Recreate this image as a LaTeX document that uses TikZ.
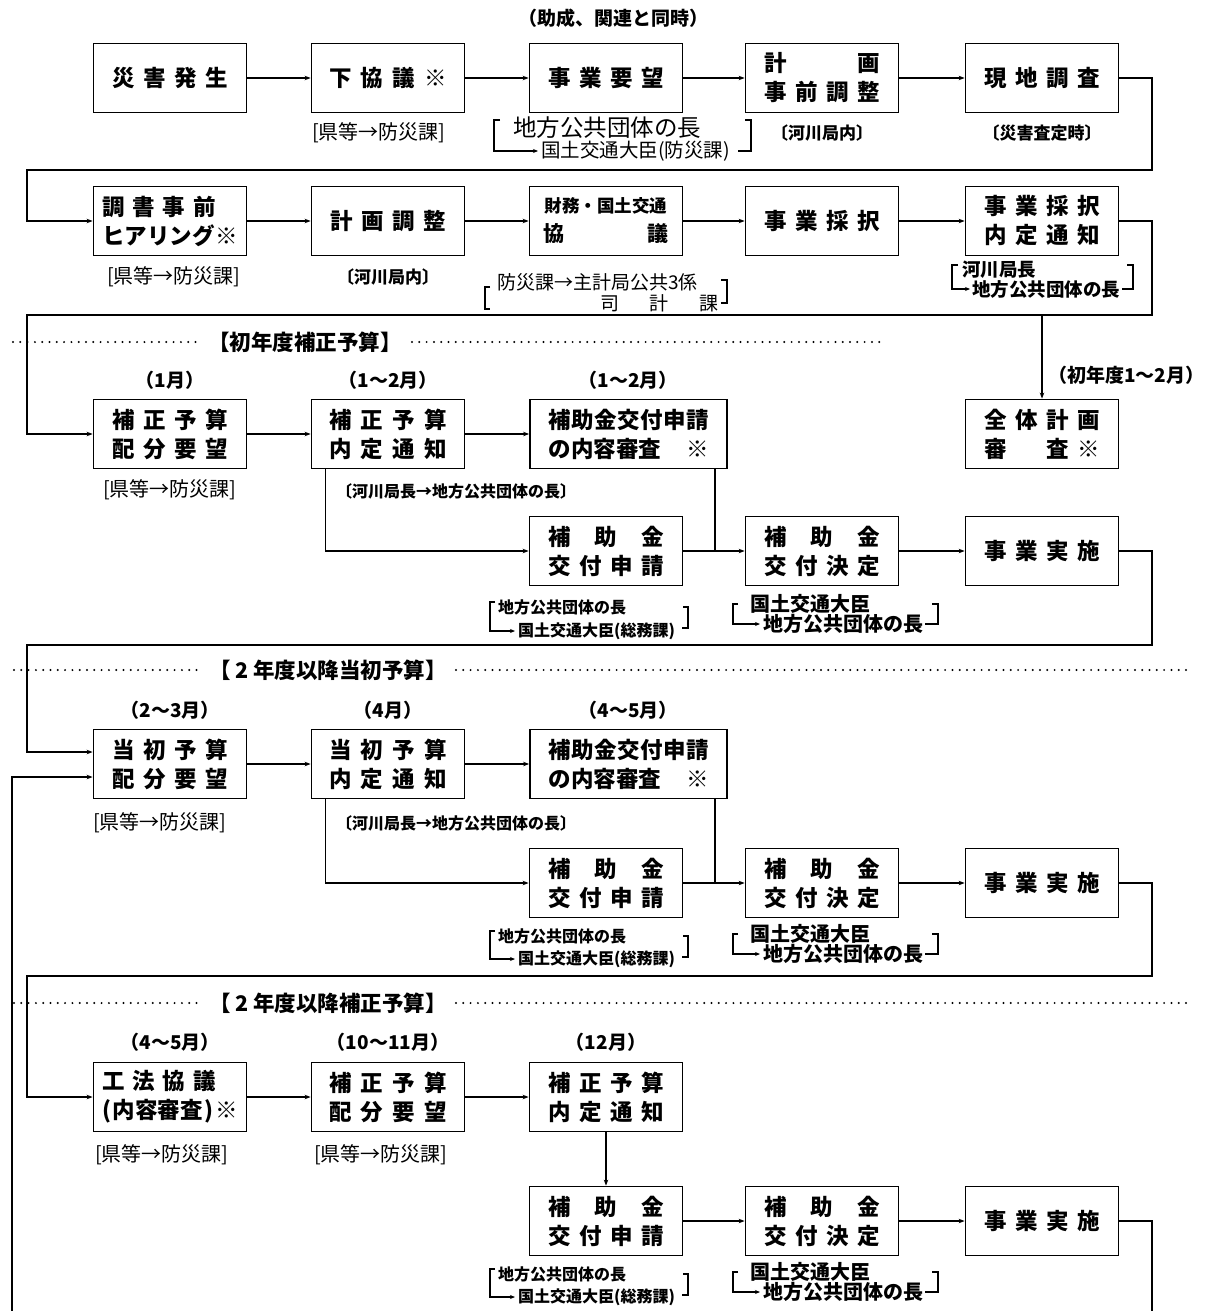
\documentclass[tikz,border=0pt]{standalone}
\usepackage{fontspec}
\setmainfont{Noto Sans CJK JP}
\usetikzlibrary{arrows.meta}
\newcommand\SL[2]{\makebox[#1][s]{#2}}
\tikzset{
  box/.style={draw, line width=1.8pt, minimum width=153pt, minimum height=69pt, inner sep=0pt, align=center, font=\bfseries\fontsize{22.5}{29}\selectfont},
  wbox/.style={box, minimum width=197pt},
  conn/.style={line width=1.5pt, -{Stealth[length=6pt,width=4.5pt]}},
  wire/.style={line width=1.5pt},
  dotline/.style={line width=2.2pt, line cap=round, dash pattern=on 0pt off 7.3pt},
  lab/.style={inner sep=0pt, font=\fontsize{20}{22}\selectfont},
  blab/.style={inner sep=0pt, font=\bfseries\fontsize{17}{20}\selectfont},
  clab/.style={inner sep=0pt, font=\bfseries\fontsize{16}{18}\selectfont},
  dlab/.style={inner sep=0pt, font=\bfseries\fontsize{20}{22}\selectfont},
  mon/.style={inner sep=0pt, font=\bfseries\fontsize{19}{21}\selectfont},
  sec/.style={inner sep=0pt, font=\bfseries\fontsize{21.5}{24}\selectfont},
  brk/.style={line width=1.2pt},
  brka/.style={line width=1.2pt, -{Stealth[length=5pt,width=4pt]}},
}
\begin{document}
\begin{tikzpicture}[x=1pt,y=-1pt]
\useasboundingbox (0,0) rectangle (1209,1311);

% ---------- Row 1 ----------
\node[mon] (n0) at (613,18) {（助成、関連と同時）};
\node[box] (a1) at (170,78) {\SL{116pt}{災\hfill 害\hfill 発\hfill 生}};
\node[box] (a2) at (388,78) {\SL{118pt}{下\hfill 協\hfill 議\hfill ※}};
\node[box] (a3) at (606,78) {\SL{116pt}{事\hfill 業\hfill 要\hfill 望}};
\node[box] (a4) at (822,78) {\SL{116pt}{計\hfill 画}\\\SL{116pt}{事\hfill 前\hfill 調\hfill 整}};
\node[box] (a5) at (1042,78) {\SL{116pt}{現\hfill 地\hfill 調\hfill 査}};
\draw[conn] (a1.east) -- (a2.west);
\draw[conn] (a2.east) -- (a3.west);
\draw[conn] (a3.east) -- (a4.west);
\draw[conn] (a4.east) -- (a5.west);

\node[lab, anchor=west] (l12) at (312,133) {[県等→防災課]};
\node[lab, anchor=west, font=\fontsize{23.5}{25}\selectfont] (l13a) at (513,128) {地方公共団体の長};
\node[lab, anchor=west, font=\fontsize{19.5}{21}\selectfont] (l13b) at (541,151) {国土交通大臣(防災課)};
\draw[brka] (500,120) -- (494,120) -- (494,151) -- (538,151);
\draw[brk] (745,120) -- (751,120) -- (751,151) -- (738,151);
\node[blab] (l14) at (822,133) {〔河川局内〕};
\node[blab] (l15) at (1042,133) {〔災害査定時〕};

% ---------- Row 2 ----------
\node[box] (b1) at (170,221) {\makebox[136pt][l]{\SL{114pt}{調\hfill 書\hfill 事\hfill 前}}\\\makebox[136pt][s]{ヒアリング\hfill ※}};
\node[box] (b2) at (388,221) {\SL{116pt}{計\hfill 画\hfill 調\hfill 整}};
\node[box] (b3) at (606,221) {{\fontsize{17.5}{20}\selectfont 財務・国土交通}\\{\fontsize{21}{26}\selectfont\SL{125pt}{協\hfill 議}}};
\node[box] (b4) at (822,221) {\SL{116pt}{事\hfill 業\hfill 採\hfill 択}};
\node[box] (b5) at (1042,221) {\SL{116pt}{事\hfill 業\hfill 採\hfill 択}\\\SL{116pt}{内\hfill 定\hfill 通\hfill 知}};
\draw[conn] (a5.east) -- (1152,78) -- (1152,170) -- (27,170) -- (27,221) -- (b1.west);
\draw[conn] (b1.east) -- (b2.west);
\draw[conn] (b2.east) -- (b3.west);
\draw[conn] (b3.east) -- (b4.west);
\draw[conn] (b4.east) -- (b5.west);

\node[lab, anchor=west] (l21) at (107,277) {[県等→防災課]};
\node[blab] (l22) at (388,277) {〔河川局内〕};
\node[lab, anchor=west, font=\fontsize{19}{20}\selectfont] (l23a) at (497,282) {防災課→主計局公共3係};
\node[lab, anchor=west, font=\fontsize{19}{20}\selectfont] (l23b) at (600,303) {\SL{118pt}{司\hfill 計\hfill 課}};
\draw[brk] (490,287) -- (485,287) -- (485,309) -- (490,309);
\draw[brk] (721,280) -- (727,280) -- (727,303) -- (721,303);
\node[blab, anchor=west, font=\bfseries\fontsize{18.5}{20}\selectfont] (l25a) at (962,270) {河川局長};
\node[blab, anchor=west, font=\bfseries\fontsize{18.5}{20}\selectfont] (l25b) at (972,289) {地方公共団体の長};
\draw[brka] (958,265) -- (952,265) -- (952,289) -- (970,289);
\draw[brk] (1127,265) -- (1133,265) -- (1133,289) -- (1122,289);

% ---------- Row 3 ----------
\draw[dotline] (13,342) -- (198,342);
\node[sec] (s1) at (305,342) {【初年度補正予算】};
\draw[dotline] (412,342) -- (880,342);

\node[mon] (m31) at (170,380) {（1月）};
\node[mon] (m32) at (388,380) {（1〜2月）};
\node[mon] (m33) at (628,380) {（1〜2月）};
\node[mon, anchor=west] (m35) at (1048,375) {（初年度1〜2月）};

\node[box] (c1) at (170,434) {\SL{116pt}{補\hfill 正\hfill 予\hfill 算}\\\SL{116pt}{配\hfill 分\hfill 要\hfill 望}};
\node[box] (c2) at (388,434) {\SL{118pt}{補\hfill 正\hfill 予\hfill 算}\\\SL{118pt}{内\hfill 定\hfill 通\hfill 知}};
\node[wbox] (c3) at (628.5,434) {\SL{160pt}{補\hfill 助\hfill 金\hfill 交\hfill 付\hfill 申\hfill 請}\\\SL{160pt}{の内容審査\hfill ※}};
\node[box] (g5) at (1042,434) {\SL{116pt}{全\hfill 体\hfill 計\hfill 画}\\\SL{116pt}{審\hfill\phantom{体}\hfill 査\hfill ※}};
\coordinate (j2) at (1042,315);
\draw[conn] (b5.east) -- (1152,221) -- (1152,315) -- (27,315) -- (27,434) -- (c1.west);
\draw[conn] (j2) -- (g5.north);
\draw[conn] (c1.east) -- (c2.west);
\draw[conn] (c2.east) -- (c3.west);

\node[lab, anchor=west] (l31) at (103,490) {[県等→防災課]};
\node[clab, anchor=west] (l32) at (336,491) {〔河川局長→地方公共団体の長〕};

% ---------- Row 4 ----------
\node[box] (d3) at (606,551) {\SL{116pt}{補\hfill 助\hfill 金}\\\SL{116pt}{交\hfill 付\hfill 申\hfill 請}};
\node[box] (d4) at (822,551) {\SL{116pt}{補\hfill 助\hfill 金}\\\SL{116pt}{交\hfill 付\hfill 決\hfill 定}};
\node[box] (d5) at (1042,551) {\SL{116pt}{事\hfill 業\hfill 実\hfill 施}};
\draw[conn] ([xshift=15pt]c2.south west) |- (d3.west);
\draw[wire] ([xshift=-13pt]c3.south east) -- ([xshift=-13pt]c3.south east |- d3.east);
\draw[conn] (d3.east) -- (d4.west);
\draw[conn] (d4.east) -- (d5.west);

\node[clab, anchor=west] (l43a) at (498,607) {地方公共団体の長};
\node[clab, anchor=west] (l43b) at (518,631) {国土交通大臣(総務課)};
\draw[brka] (495,602) -- (490,602) -- (490,631) -- (515,631);
\draw[brk] (683,607) -- (688,607) -- (688,628) -- (682,628);
\node[dlab, anchor=west] (l44a) at (750,604) {国土交通大臣};
\node[dlab, anchor=west] (l44b) at (763,624) {地方公共団体の長};
\draw[brka] (738,604) -- (733,604) -- (733,624) -- (760,624);
\draw[brk] (932,604) -- (938,604) -- (938,624) -- (925,624);

% ---------- Row 5 ----------
\draw[dotline] (14,670) -- (198,670);
\node[sec] (s2) at (328,670) {【 2 年度以降当初予算】};
\draw[dotline] (456,670) -- (1187,670);

\node[mon] (m51) at (170,710) {（2〜3月）};
\node[mon] (m52) at (388,710) {（4月）};
\node[mon] (m53) at (628,710) {（4〜5月）};

\node[box] (e1) at (170,764) {\SL{116pt}{当\hfill 初\hfill 予\hfill 算}\\\SL{116pt}{配\hfill 分\hfill 要\hfill 望}};
\node[box] (e2) at (388,764) {\SL{118pt}{当\hfill 初\hfill 予\hfill 算}\\\SL{118pt}{内\hfill 定\hfill 通\hfill 知}};
\node[wbox] (e3) at (628.5,764) {\SL{160pt}{補\hfill 助\hfill 金\hfill 交\hfill 付\hfill 申\hfill 請}\\\SL{160pt}{の内容審査\hfill ※}};
\draw[conn] (d5.east) -- (1152,551) -- (1152,645) -- (27,645) -- (27,752) -- ([yshift=12pt]e1.west);
\draw[conn] (12,1311) -- (12,777) -- ([yshift=-13pt]e1.west);
\draw[conn] (e1.east) -- (e2.west);
\draw[conn] (e2.east) -- (e3.west);

\node[lab, anchor=west] (l51) at (93,823) {[県等→防災課]};
\node[clab, anchor=west] (l52) at (336,823) {〔河川局長→地方公共団体の長〕};

% ---------- Row 6 ----------
\node[box] (f3) at (606,883) {\SL{116pt}{補\hfill 助\hfill 金}\\\SL{116pt}{交\hfill 付\hfill 申\hfill 請}};
\node[box] (f4) at (822,883) {\SL{116pt}{補\hfill 助\hfill 金}\\\SL{116pt}{交\hfill 付\hfill 決\hfill 定}};
\node[box] (f5) at (1042,883) {\SL{116pt}{事\hfill 業\hfill 実\hfill 施}};
\draw[conn] ([xshift=15pt]e2.south west) |- (f3.west);
\draw[wire] ([xshift=-13pt]e3.south east) -- ([xshift=-13pt]e3.south east |- f3.east);
\draw[conn] (f3.east) -- (f4.west);
\draw[conn] (f4.east) -- (f5.west);

\node[clab, anchor=west] (l63a) at (498,936) {地方公共団体の長};
\node[clab, anchor=west] (l63b) at (518,959) {国土交通大臣(総務課)};
\draw[brka] (495,931) -- (490,931) -- (490,959) -- (515,959);
\draw[brk] (683,936) -- (688,936) -- (688,957) -- (682,957);
\node[dlab, anchor=west] (l64a) at (750,934) {国土交通大臣};
\node[dlab, anchor=west] (l64b) at (763,954) {地方公共団体の長};
\draw[brka] (738,934) -- (733,934) -- (733,954) -- (760,954);
\draw[brk] (932,934) -- (938,934) -- (938,954) -- (925,954);

% ---------- Row 7 ----------
\draw[dotline] (14,1003) -- (198,1003);
\node[sec] (s3) at (328,1003) {【 2 年度以降補正予算】};
\draw[dotline] (456,1003) -- (1187,1003);

\node[mon] (m71) at (170,1042) {（4〜5月）};
\node[mon] (m72) at (388,1042) {（10〜11月）};
\node[mon] (m73) at (606,1042) {（12月）};

\node[box] (h1) at (170,1097) {\makebox[136pt][l]{\SL{114pt}{工\hfill 法\hfill 協\hfill 議}}\\\makebox[136pt][s]{(\hfill 内容審査\hfill )\hfill ※}};
\node[box] (h2) at (388,1097) {\SL{118pt}{補\hfill 正\hfill 予\hfill 算}\\\SL{118pt}{配\hfill 分\hfill 要\hfill 望}};
\node[box] (h3) at (606,1097) {\SL{116pt}{補\hfill 正\hfill 予\hfill 算}\\\SL{116pt}{内\hfill 定\hfill 通\hfill 知}};
\draw[conn] (f5.east) -- (1152,883) -- (1152,976) -- (27,976) -- (27,1097) -- (h1.west);
\draw[conn] (h1.east) -- (h2.west);
\draw[conn] (h2.east) -- (h3.west);

\node[lab, anchor=west] (l71) at (95,1155) {[県等→防災課]};
\node[lab, anchor=west] (l72) at (314,1155) {[県等→防災課]};

% ---------- Row 8 ----------
\node[box] (i3) at (606,1221) {\SL{116pt}{補\hfill 助\hfill 金}\\\SL{116pt}{交\hfill 付\hfill 申\hfill 請}};
\node[box] (i4) at (822,1221) {\SL{116pt}{補\hfill 助\hfill 金}\\\SL{116pt}{交\hfill 付\hfill 決\hfill 定}};
\node[box] (i5) at (1042,1221) {\SL{116pt}{事\hfill 業\hfill 実\hfill 施}};
\draw[conn] (h3.south) -- (i3.north);
\draw[conn] (i3.east) -- (i4.west);
\draw[conn] (i4.east) -- (i5.west);
\draw[wire] (i5.east) -- (1152,1221) -- (1152,1311);

\node[clab, anchor=west] (l83a) at (498,1274) {地方公共団体の長};
\node[clab, anchor=west] (l83b) at (518,1297) {国土交通大臣(総務課)};
\draw[brka] (495,1269) -- (490,1269) -- (490,1297) -- (515,1297);
\draw[brk] (683,1274) -- (688,1274) -- (688,1295) -- (682,1295);
\node[dlab, anchor=west] (l84a) at (750,1272) {国土交通大臣};
\node[dlab, anchor=west] (l84b) at (763,1292) {地方公共団体の長};
\draw[brka] (738,1272) -- (733,1272) -- (733,1292) -- (760,1292);
\draw[brk] (932,1272) -- (938,1272) -- (938,1292) -- (925,1292);
\end{tikzpicture}
\end{document}
